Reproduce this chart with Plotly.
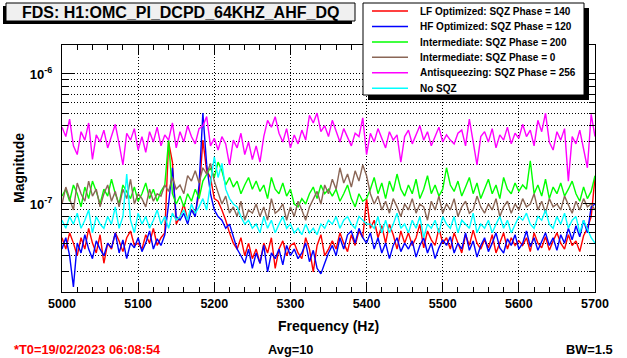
import plotly.graph_objects as go

# ---------------- data (magnitudes in units of 1e-8) ----------------
freq_start = 5000
freq_step = 5

lf_140 = [5.5, 4.5, 6, 5, 4, 5.5, 4.5, 6.5, 5, 4.2, 5.8,
          3.5, 5, 4.5, 6, 5.2, 4.3, 5.5, 6.2, 4.8, 5,
          4.5, 5.8, 5, 6.5, 4.8, 5.5, 6, 30, 21, 7,
          8, 10, 7.5, 9, 8.5, 12, 31, 18, 16, 11,
          10.5, 9, 7.5, 6, 5, 4.5, 5.5, 4, 5, 3.8,
          4.5, 3.5, 5, 4.2, 5.5, 3.2, 4.5, 5.2, 4, 4.8,
          5, 4.2, 3.8, 5.5, 4.5, 3, 4.8, 5.8, 4, 4.5,
          5.2, 4.5, 6, 5, 4.3, 5.8, 4.8, 6.2, 5.5, 11,
          6.5, 7.5, 5.5, 6.8, 5, 7, 5.8, 4.5, 6.2, 5,
          6, 4.8, 5.5, 7, 4.6, 6.2, 5.3, 4.8, 6.5, 5,
          5.5, 4.5, 6, 5, 4.2, 5.8, 4.8, 6.3, 5, 4.5,
          5.3, 4.6, 5.8, 4.2, 5, 6, 4.5, 5.5, 4.8, 5.2,
          4.8, 5.5, 4.3, 6, 5, 4.6, 5.6, 4.4, 5.2, 6,
          5, 4.5, 5.8, 4.8, 5.2, 4.3, 5.7, 6.5, 8, 16]

hf_120 = [4.5, 5.5, 4, 2.3, 5, 4.2, 5.8, 4.5, 3.8, 5.2, 4.5,
          4, 5, 4.6, 6, 4.2, 5.3, 3.8, 5, 4.6, 5.5,
          4.3, 5, 6.2, 4.5, 5.4, 4.8, 5.8, 10, 19, 8,
          7.5, 8.5, 7, 9, 8, 14, 50, 20, 12, 9,
          8, 7.5, 6.5, 7, 5.5, 4.5, 4, 3.5, 4.5, 3.2,
          4.2, 3.5, 4.8, 3, 4.2, 3.8, 4.5, 3.4, 4.8, 4,
          4.5, 3.8, 4.2, 5, 3.6, 4.4, 3.2, 2.9, 3.5, 4.2,
          4.8, 4, 5.5, 4.5, 5.8, 6.2, 5, 6.5, 5.5, 5,
          6, 4.5, 5.5, 4.2, 5, 3.8, 4.8, 5.5, 4.3, 5,
          4.5, 5.2, 3.9, 4.8, 5.5, 4.2, 5, 3.8, 4.6, 5.3,
          4.8, 5.6, 4.2, 5, 4.5, 6, 4.4, 5.2, 3.9, 4.8,
          5.5, 4.3, 5, 6, 4.6, 4.2, 5.4, 4.8, 5.8, 4.5,
          5, 6.2, 4.7, 5.5, 4.4, 5.2, 6, 4.8, 5.5, 4.4,
          5.8, 5, 6.5, 5.3, 6.8, 5.6, 7.5, 6, 9.5, 10]

int_200 = [11.5, 13, 10.5, 14, 12, 9.5, 13.5, 11, 15, 12.5, 10,
           13, 11.5, 15.5, 12, 10, 14, 12.5, 11, 13.5, 10.5,
           12, 14.5, 11, 13, 10.5, 12.5, 14, 31, 12, 10,
           11.5, 9.5, 12, 10.5, 13, 11, 15, 17, 19, 16,
           21, 18, 14, 16, 13.5, 15, 12, 14, 16, 13,
           15, 12.5, 14, 11, 16, 13, 12, 14.5, 11.5, 13,
           10, 9.5, 11, 10, 12, 13.5, 11, 14, 12, 13,
           11.5, 13, 10.5, 12, 14, 11, 9.5, 12, 10.5, 11,
           13, 16, 12, 14.5, 11, 15, 12.5, 17, 13, 11.5,
           14, 12, 15.5, 11, 13, 16.5, 12, 14, 11.5, 13,
           19, 14, 12.5, 15, 11.5, 13.5, 16, 12, 14.5, 11,
           13, 15.5, 12, 14, 11, 16, 13, 12, 14.5, 12.5,
           14, 13, 21.5, 12, 14, 11.5, 15.5, 11, 13.5, 12,
           14.5, 11.5, 13, 15, 12, 10.5, 13.5, 11, 12.5, 16.5]

int_0 = [10, 13.5, 11, 9, 14.5, 12, 10.5, 15, 11.5, 13, 9.5,
         12, 14, 10.5, 12.5, 9.5, 13, 11, 15.5, 10, 12,
         11, 9.5, 13, 10.5, 12, 11.5, 14, 12.5, 16, 13,
         14, 12, 16.5, 15, 18, 14.5, 19, 17, 20.5, 15,
         12, 10, 11.5, 8.5, 9.5, 8, 10.5, 7.5, 9, 8.5,
         10, 8, 9.5, 7.5, 11, 8.5, 9, 10, 7.5, 9.5,
         8, 10.5, 9, 7.5, 9.5, 11, 12.5, 10, 14, 12,
         15.5, 13, 19, 14.5, 17, 13.5, 18, 15, 20, 16.5,
         12, 10, 11.5, 9, 10.5, 8.5, 11, 9.5, 8, 10,
         9, 11, 8.5, 10, 9.5, 7.5, 10.5, 9, 11.5, 8.5,
         10, 9, 11, 8, 9.5, 10.5, 8.5, 9, 11.5, 9.5,
         8.5, 10, 9, 11, 8, 9.5, 10.5, 8.5, 10, 9,
         11, 9.5, 10, 12, 9, 10.5, 8.5, 11, 9.5, 10,
         9, 11.5, 10, 8.5, 10.5, 9, 11, 9.5, 10, 9]

anti_256 = [39, 33, 45, 28, 24, 36, 31, 42, 22, 34, 30,
            37, 27, 33, 41, 29, 20, 35, 31, 38, 26,
            33, 25, 36, 30, 39, 28, 34, 31, 42, 27,
            36, 30, 40, 33, 29, 38, 40, 47, 28, 32,
            26, 33, 29, 20, 31, 27, 35, 24, 30, 22,
            28, 21, 33, 44, 39, 47, 35, 30, 38, 27,
            34, 29, 37, 31, 48, 42, 50, 36, 40, 33,
            44, 36, 30, 38, 33, 28, 35, 33, 46, 24,
            35, 30, 38, 32, 27, 36, 31, 34, 21, 33,
            37, 29, 34, 40, 31, 36, 28, 33, 39, 30,
            34, 31, 29, 35, 37, 28, 45, 30, 20, 33,
            36, 30, 38, 27, 34, 31, 39, 29, 35, 32,
            41, 33, 37, 28, 44, 36, 50, 30, 26, 36,
            31, 38, 15, 33, 29, 37, 27, 19, 49, 33]

no_sqz = [7.5, 6.5, 8, 7, 8.5, 6.5, 7.5, 9, 6, 8, 7,
          6.5, 8, 7, 9.5, 6.5, 8, 17, 7.5, 6, 8.5,
          7, 8, 6.5, 7.5, 9, 7, 8, 6.5, 8.5, 7.5,
          8, 9, 7.5, 10, 8.5, 9.5, 11, 9, 14, 23,
          16, 20.5, 13, 11, 10, 9.5, 8, 7, 7.5, 6.5,
          7, 6, 8, 6.5, 7.5, 6, 7, 8, 6.5, 7,
          6, 6.5, 5.8, 7, 6, 6.5, 5.8, 7, 6.5, 7.5,
          7, 8, 6.5, 7.5, 8, 7, 6.5, 8, 7.5, 7,
          7, 6.5, 8, 6, 7.5, 6, 7, 8.5, 6.5, 7,
          6, 7.5, 6.5, 8, 5.5, 7, 6.5, 7.5, 6, 8,
          7, 6.5, 8, 6, 7.5, 7, 6.5, 8.5, 6, 7,
          6.5, 7.5, 6, 7, 8, 6.5, 7.5, 6, 7, 8,
          7.5, 8.5, 7, 6.5, 8, 7.5, 9, 7, 6.5, 8,
          7, 8.5, 6.5, 7.5, 8, 6, 7.5, 6.5, 5.5, 5]

series_names = ["LF Optimized: SQZ Phase = 140", "HF Optimized: SQZ Phase = 120",
                "Intermediate: SQZ Phase = 200", "Intermediate: SQZ Phase = 0",
                "Antisqueezing: SQZ Phase = 256", "No SQZ"]
series_values = [lf_140, hf_120, int_200, int_0, anti_256, no_sqz]
series_colors = ["#ff0000", "#0000ff", "#00ff00", "#8a6656", "#ff00ff", "#00ffff"]
unit = 1e-8

x_ticks = [5000, 5100, 5200, 5300, 5400, 5500, 5600, 5700]
y_major = [1e-7, 1e-6]
y_major_text = ["10<sup>-7</sup>", "10<sup>-6</sup>"]
y_minor = [k * 10.0 ** e for e in (-8, -7, -6) for k in range(2, 10)]

title_text = "FDS: H1:OMC_PI_DCPD_64KHZ_AHF_DQ"
x_title = "Frequency (Hz)"
y_title = "Magnitude"
t0_text = "*T0=19/02/2023 06:08:54"
avg_text = "Avg=10"
bw_text = "BW=1.5"

# ---------------- layout geometry (pixels) ----------------
W, H = 627, 358
PL, PR, PT, PB = 62, 595, 45, 292
FONT = "Liberation Sans"


def px(x):
    return (x - PL) / (PR - PL)


def py(y):
    return (PB - y) / (PB - PT)


fig = go.Figure()
for name, vals, col in zip(series_names, series_values, series_colors):
    xs = [freq_start + freq_step * i for i in range(len(vals))]
    ys = [v * unit for v in vals]
    fig.add_trace(go.Scatter(x=xs, y=ys, mode="lines", name=name, hoverinfo="skip",
                             line=dict(color=col, width=1.4), showlegend=False))

shapes = []
annotations = []

# title box with shadow (bottom-left)
shapes.append(dict(type="rect", xref="paper", yref="paper", x0=px(3), x1=px(352), y0=py(24), y1=py(6),
                   fillcolor="black", line=dict(width=0)))
shapes.append(dict(type="rect", xref="paper", yref="paper", x0=px(6), x1=px(355), y0=py(21), y1=py(3),
                   fillcolor="#f0f0f0", line=dict(color="black", width=1)))
annotations.append(dict(text="<b>" + title_text + "</b>", xref="paper", yref="paper", x=px(180), y=py(12.5),
                        xanchor="center", yanchor="middle", showarrow=False,
                        font=dict(family=FONT, size=16, color="black")))

# legend box with shadow (bottom-right)
shapes.append(dict(type="rect", xref="paper", yref="paper", x0=px(368), x1=px(589), y0=py(100), y1=py(8),
                   fillcolor="black", line=dict(width=0), layer="above"))
shapes.append(dict(type="rect", xref="paper", yref="paper", x0=px(363), x1=px(584), y0=py(95), y1=py(3),
                   fillcolor="white", line=dict(color="black", width=1), layer="above"))
entry_y = [11, 26.5, 42, 57.3, 72.7, 88.2]
for name, col, ey in zip(series_names, series_colors, entry_y):
    shapes.append(dict(type="line", xref="paper", yref="paper", x0=px(372), x1=px(408), y0=py(ey), y1=py(ey),
                       line=dict(color=col, width=1.4), layer="above"))
    annotations.append(dict(text="<b>" + name + "</b>", xref="paper", yref="paper", x=px(418), y=py(ey),
                            xanchor="left", yanchor="middle", showarrow=False,
                            font=dict(family=FONT, size=10, color="black")))

# axis titles
annotations.append(dict(text="<b>" + x_title + "</b>", xref="paper", yref="paper", x=px(328), y=py(326),
                        xanchor="center", yanchor="middle", showarrow=False,
                        font=dict(family=FONT, size=14, color="black")))
annotations.append(dict(text="<b>" + y_title + "</b>", xref="paper", yref="paper", x=px(19), y=py(168),
                        xanchor="center", yanchor="middle", showarrow=False, textangle=-90,
                        font=dict(family=FONT, size=14, color="black")))

# footer texts
annotations.append(dict(text="<b>" + t0_text + "</b>", xref="paper", yref="paper", x=px(12), y=py(349),
                        xanchor="left", yanchor="middle", showarrow=False,
                        font=dict(family=FONT, size=12.8, color="#ff0000")))
annotations.append(dict(text="<b>" + avg_text + "</b>", xref="paper", yref="paper", x=px(290), y=py(349),
                        xanchor="center", yanchor="middle", showarrow=False,
                        font=dict(family=FONT, size=12.8, color="black")))
annotations.append(dict(text="<b>" + bw_text + "</b>", xref="paper", yref="paper", x=px(615), y=py(349),
                        xanchor="right", yanchor="middle", showarrow=False,
                        font=dict(family=FONT, size=12.8, color="black")))

fig.update_layout(
    width=W, height=H,
    margin=dict(l=PL, r=W - PR, t=PT, b=H - PB, pad=0),
    paper_bgcolor="white", plot_bgcolor="white",
    showlegend=False, hovermode=False,
    shapes=shapes, annotations=annotations,
    font=dict(family=FONT, color="black"),
    xaxis=dict(range=[5000, 5700], tickvals=x_ticks, ticktext=["<b>%d</b>" % v for v in x_ticks],
               ticks="inside", ticklen=9, tickwidth=1, tickcolor="black",
               showline=True, linecolor="black", linewidth=1, mirror="ticks",
               showgrid=True, gridcolor="black", gridwidth=1, griddash="1px,2px", zeroline=False,
               minor=dict(dtick=20, tick0=5000, ticks="inside", ticklen=5, tickcolor="black", showgrid=False),
               tickfont=dict(family=FONT, size=12.5, color="black")),
    yaxis=dict(type="log", range=[-7.677, -5.777], tickvals=y_major, ticktext=["<b>" + t + "</b>" for t in y_major_text],
               ticks="inside", ticklen=12, tickwidth=1, tickcolor="black",
               showline=True, linecolor="black", linewidth=1, mirror="ticks",
               showgrid=True, gridcolor="black", gridwidth=1, griddash="1px,2px", zeroline=False,
               ticklabelstandoff=6,
               minor=dict(tickvals=y_minor, ticks="inside", ticklen=6, tickcolor="black",
                          showgrid=True, gridcolor="black", gridwidth=1, griddash="1px,2px"),
               tickfont=dict(family=FONT, size=13, color="black")),
)

fig.write_html("out.html", config={"displayModeBar": False},
               post_script="document.body.style.margin='0px';document.body.style.overflow='hidden';")
